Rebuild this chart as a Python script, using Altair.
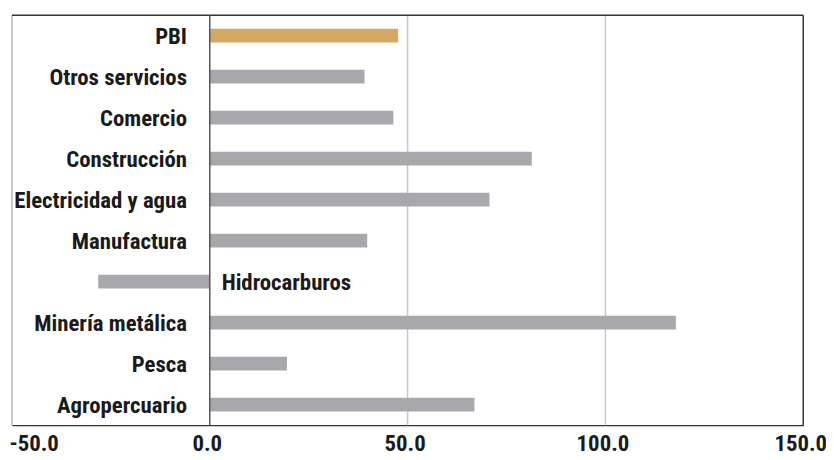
import altair as alt
import pandas as pd

sectors = ["PBI", "Otros servicios", "Comercio", "Construcción", "Electricidad y agua",
           "Manufactura", "Hidrocarburos", "Minería metálica", "Pesca", "Agropercuario"]
values = [47.6, 39.1, 46.4, 81.4, 70.7, 39.8, -28.2, 117.8, 19.5, 66.9]
highlight = [True, False, False, False, False, False, False, False, False, False]
ticks = [-50, 0, 50, 100, 150]
grid_vals = [50, 100]

df = pd.DataFrame({"sector": sectors, "value": values, "hl": highlight})
df["side"] = ["right" if v < 0 else "left" for v in values]

W, H = 799, 414
FONT = "Roboto Condensed"

xscale = alt.Scale(domain=[-50, 150], nice=False, zero=False)
yscale = alt.Scale(domain=sectors, paddingInner=0, paddingOuter=0)

xaxis = alt.Axis(values=ticks, ticks=False, grid=False, domain=True,
                 domainColor="#333333", domainWidth=1.5, labelFont=FONT,
                 labelFontSize=23, labelFontWeight="bold", labelColor="#1a1a1a",
                 labelPadding=8, labelOffset=-3, title=None,
                 labelExpr="replace(format(datum.value, '.1f'), '\u2212', '-')",
                 labelAlign=alt.ExprRef("datum.value == -50 ? 'left' : 'center'"))

base_x = alt.X("value:Q", scale=xscale, axis=xaxis)

grid = alt.Chart(pd.DataFrame({"g": grid_vals})).mark_rule(
    color="#c8c8c8", strokeWidth=1.5
).encode(x=alt.X("g:Q", scale=xscale, axis=xaxis))

left_edge = alt.Chart(pd.DataFrame({"g": [ticks[0]]})).mark_rule(
    color="#b5b5b5", strokeWidth=1.5
).encode(x=alt.X("g:Q", scale=xscale))

right_edge = alt.Chart(pd.DataFrame({"g": [ticks[-1]]})).mark_rule(
    color="#333333", strokeWidth=1.5
).encode(x=alt.X("g:Q", scale=xscale))

top_edge = alt.Chart(pd.DataFrame({"g": [0]})).mark_rule(
    color="#333333", strokeWidth=1.5
).encode(y=alt.value(0), x=alt.value(0), x2=alt.value(W))

bars = alt.Chart(df).mark_bar(size=14).encode(
    x=base_x,
    x2=alt.datum(0),
    y=alt.Y("sector:N", scale=yscale, axis=None, sort=sectors),
    color=alt.Color("hl:N", scale=alt.Scale(domain=[True, False], range=["#d3a962", "#a7a8ac"]),
                    legend=None),
)

zero = alt.Chart(pd.DataFrame({"g": [0]})).mark_rule(
    color="#555555", strokeWidth=1.5
).encode(x=alt.X("g:Q", scale=xscale))

labels_left = alt.Chart(df[df["side"] == "left"]).mark_text(
    align="right", baseline="middle", dx=-23, dy=1, font=FONT, fontSize=23,
    fontWeight="bold", color="#1a1a1a"
).encode(
    x=alt.datum(0, scale=xscale),
    y=alt.Y("sector:N", scale=yscale, axis=None, sort=sectors),
    text="sector:N",
)

labels_right = alt.Chart(df[df["side"] == "right"]).mark_text(
    align="left", baseline="middle", dx=12, dy=1, font=FONT, fontSize=23,
    fontWeight="bold", color="#1a1a1a"
).encode(
    x=alt.datum(0, scale=xscale),
    y=alt.Y("sector:N", scale=yscale, axis=None, sort=sectors),
    text="sector:N",
)

chart = alt.layer(grid, left_edge, right_edge, top_edge, bars, zero, labels_left, labels_right).properties(
    width=W, height=H,
    autosize=alt.AutoSizeParams(type="none"),
    padding={"left": 4, "top": 5, "right": 23, "bottom": 33},
    background="white",
).configure_view(stroke=None)

chart.save("out.html", embed_options={"renderer": "svg", "actions": False})
